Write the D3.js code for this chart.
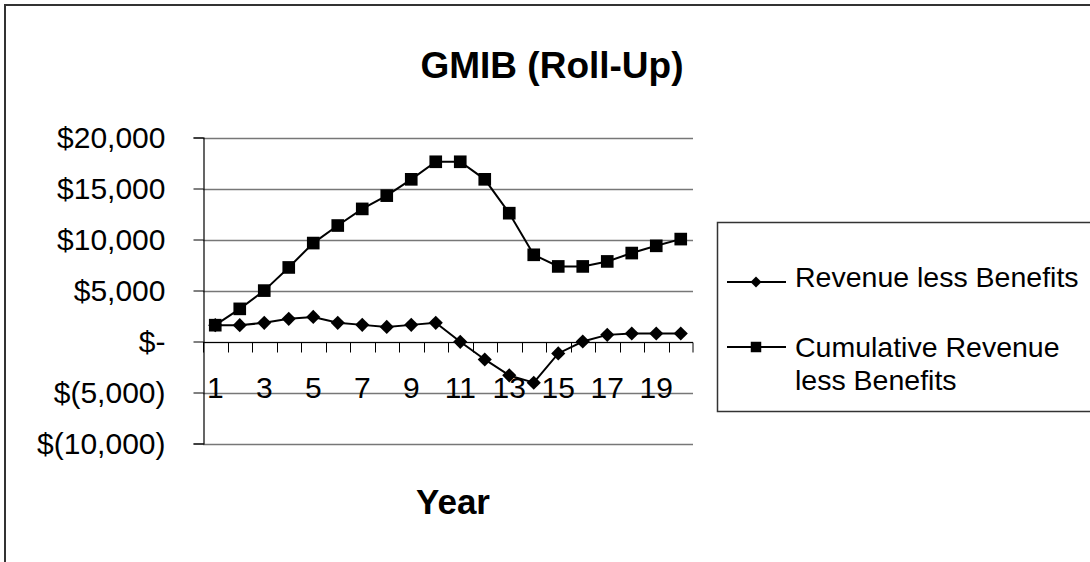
<!DOCTYPE html>
<html>
<head>
<meta charset="utf-8">
<script src="https://cdn.jsdelivr.net/npm/d3@7"></script>
<style>
  body { margin: 0; background: #fff; }
  text { font-family: Arial, "Liberation Sans", sans-serif; fill: #000; }
</style>
</head>
<body>
<script>
// chart values
var years = [1,2,3,4,5,6,7,8,9,10,11,12,13,14,15,16,17,18,19,20];
var revenue = [1600,1600,1830,2220,2410,1830,1630,1430,1630,1830,-30,-1760,-3320,-4040,-1170,0,650,780,780,780];
var cumulative = [1600,3200,4990,7260,9650,11370,13000,14300,15900,17620,17620,15900,12580,8500,7360,7360,7850,8670,9380,10040];
var yTicks = [-10000,-5000,0,5000,10000,15000,20000];
var xLabels = [1,3,5,7,9,11,13,15,17,19];
var seriesNames = ['Revenue less Benefits', ['Cumulative Revenue', 'less Benefits']];

var width = 1090, height = 562;

var svg = d3.select('body').append('svg')
  .attr('width', width)
  .attr('height', height);

// outer chart border (only top and left are inside the picture)
svg.append('path')
  .attr('d', 'M5,' + (height + 5) + 'V5H' + (width + 5))
  .attr('fill', 'none')
  .attr('stroke', '#333')
  .attr('stroke-width', 2);

// scales
var x = d3.scaleBand().domain(years).range([203, 693]);
var y = d3.scaleLinear().domain([-10000, 20000]).range([443.5, 137.5]);
var cx = function(d) { return x(d) + x.bandwidth() / 2; };

// money formatter like excel accounting style
function money(v) {
  if (v === 0) return '$-';
  var s = d3.format(',')(Math.abs(v));
  return v < 0 ? '$(' + s + ')' : '$' + s;
}

// gridlines
svg.append('g').selectAll('line')
  .data(yTicks).enter().append('line')
  .attr('x1', 203).attr('x2', 693)
  .attr('y1', function(d) { return Math.round(y(d)) + 0.5; })
  .attr('y2', function(d) { return Math.round(y(d)) + 0.5; })
  .attr('stroke', '#777')
  .attr('stroke-width', 1.5);

// y axis
var yAxis = svg.append('g')
  .attr('transform', 'translate(203.5,0)')
  .call(d3.axisLeft(y).tickValues(yTicks).tickSize(10).tickPadding(28).tickFormat(money));
yAxis.select('.domain').attr('stroke', '#000').attr('stroke-width', 1.2);
yAxis.selectAll('.tick line').attr('stroke', '#000');
yAxis.selectAll('.tick text')
  .style('font-size', '30px')
  .style('font-family', 'Arial, "Liberation Sans", sans-serif')
  .attr('fill', '#000');

// x axis at zero, ticks between categories
var y0 = Math.round(y(0)) + 0.5;
var xg = svg.append('g');
xg.append('line')
  .attr('x1', 203).attr('x2', 693)
  .attr('y1', y0).attr('y2', y0)
  .attr('stroke', '#000').attr('stroke-width', 1.2);
xg.selectAll('.xt')
  .data(years.concat([21])).enter().append('line')
  .attr('class', 'xt')
  .attr('x1', function(d) { return d === 21 ? 693 : Math.round(x(d)) + 0.5; })
  .attr('x2', function(d) { return d === 21 ? 693 : Math.round(x(d)) + 0.5; })
  .attr('y1', y0).attr('y2', y0 + 10)
  .attr('stroke', '#000');
xg.selectAll('.xl')
  .data(xLabels).enter().append('text')
  .attr('class', 'xl')
  .attr('x', cx)
  .attr('y', 398)
  .attr('text-anchor', 'middle')
  .style('font-size', '30px')
  .text(function(d) { return d; });

// series lines
var line = d3.line()
  .x(function(d, i) { return cx(years[i]); })
  .y(function(d) { return y(d); });

svg.append('path').datum(revenue)
  .attr('d', line).attr('fill', 'none')
  .attr('stroke', '#000').attr('stroke-width', 2);
svg.append('path').datum(cumulative)
  .attr('d', line).attr('fill', 'none')
  .attr('stroke', '#000').attr('stroke-width', 2);

var diamond = d3.symbol().type(d3.symbolSquare).size(100);
var square = d3.symbol().type(d3.symbolSquare).size(160);

svg.append('g').selectAll('path')
  .data(revenue).enter().append('path')
  .attr('d', diamond)
  .attr('transform', function(d, i) { return 'translate(' + cx(years[i]) + ',' + y(d) + ') rotate(45)'; })
  .attr('fill', '#000');

svg.append('g').selectAll('path')
  .data(cumulative).enter().append('path')
  .attr('d', square)
  .attr('transform', function(d, i) { return 'translate(' + cx(years[i]) + ',' + y(d) + ')'; })
  .attr('fill', '#000');

// title and axis title
svg.append('text')
  .attr('x', 552).attr('y', 78)
  .attr('text-anchor', 'middle')
  .style('font-size', '37px').style('font-weight', 'bold')
  .text('GMIB (Roll-Up)');

svg.append('text')
  .attr('x', 453).attr('y', 514)
  .attr('text-anchor', 'middle')
  .style('font-size', '35px').style('font-weight', 'bold')
  .text('Year');

// legend
var lg = svg.append('g');
lg.append('rect')
  .attr('x', 717.5).attr('y', 222.5)
  .attr('width', 400).attr('height', 189)
  .attr('fill', '#fff').attr('stroke', '#333').attr('stroke-width', 1.5);

var legendY = [282, 347];
lg.selectAll('.ll')
  .data(legendY).enter().append('line')
  .attr('x1', 727).attr('x2', 786)
  .attr('y1', function(d) { return d; }).attr('y2', function(d) { return d; })
  .attr('stroke', '#000').attr('stroke-width', 2);
lg.append('path')
  .attr('d', d3.symbol().type(d3.symbolSquare).size(60))
  .attr('transform', 'translate(756,' + legendY[0] + ') rotate(45)');
lg.append('path')
  .attr('d', d3.symbol().type(d3.symbolSquare).size(110))
  .attr('transform', 'translate(756,' + legendY[1] + ')');

lg.append('text')
  .attr('x', 795).attr('y', 287)
  .style('font-size', '28.5px')
  .text(seriesNames[0]);
var t2 = lg.append('text').attr('x', 795).attr('y', 357).style('font-size', '28.5px');
t2.append('tspan').attr('x', 795).text(seriesNames[1][0]);
t2.append('tspan').attr('x', 795).attr('dy', 33).text(seriesNames[1][1]);
</script>
</body>
</html>
